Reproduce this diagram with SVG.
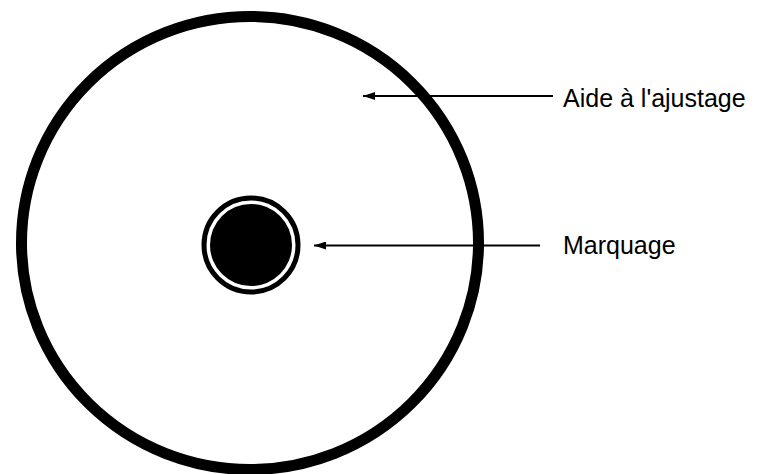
<svg xmlns="http://www.w3.org/2000/svg" width="762" height="474" viewBox="0 0 762 474">
<style>
.lbl{font-family:"Liberation Sans",Arial,sans-serif;font-size:25px;fill:#000}
.ln{stroke:#000;stroke-width:2;fill:none}
</style>
<defs>
<marker id="ah" markerWidth="12" markerHeight="8" refX="12" refY="4" orient="auto" markerUnits="userSpaceOnUse">
<path d="M0,0 L12,4 L0,8 Z" fill="#000"/>
</marker>
</defs>
<rect width="762" height="474" fill="#fff"/>
<g id="outer">
<ellipse cx="250" cy="243" rx="228.5" ry="226.5" fill="none" stroke="#000" stroke-width="11"/>
</g>
<g id="marker">
<circle cx="251" cy="245" r="47" fill="none" stroke="#000" stroke-width="5"/>
<circle cx="251" cy="245" r="41" fill="#000"/>
</g>
<g id="connectors">
<line class="ln" x1="553" y1="96" x2="363" y2="96" marker-end="url(#ah)"/>
<line class="ln" x1="540" y1="245.5" x2="314" y2="245.5" marker-end="url(#ah)"/>
</g>
<g id="label1"><text class="lbl" x="563" y="107">Aide à l'ajustage</text></g>
<g id="label2"><text class="lbl" x="563" y="254">Marquage</text></g>
</svg>
